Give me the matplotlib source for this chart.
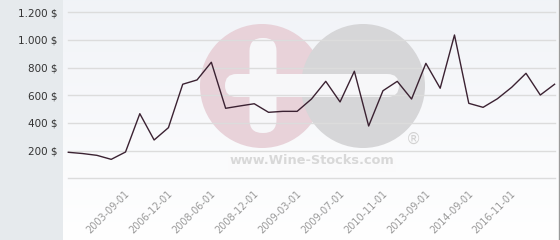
import numpy as np
import matplotlib
matplotlib.use("Agg")
import matplotlib.pyplot as plt
from matplotlib.patches import Circle, FancyBboxPatch, Rectangle
from matplotlib.ticker import FuncFormatter
import matplotlib.transforms as mtransforms

# ---- data ----
prices = [188, 179, 166, 137, 190, 467, 277, 366, 680, 711,
          839, 506, 523, 539, 477, 484, 484, 573, 701, 552,
          774, 378, 633, 701, 573, 831, 651, 1036, 542, 513,
          575, 658, 759, 602, 680]
tick_labels = ["2003-09-01", "2006-12-01", "2008-06-01", "2008-12-01",
               "2009-03-01", "2009-07-01", "2010-11-01", "2013-09-01",
               "2014-09-01", "2016-11-01"]
y_ticks = [200, 400, 600, 800, 1000, 1200]

W, H = 560, 240
fig = plt.figure(figsize=(W / 100, H / 100), dpi=100)
fig.patch.set_facecolor("white")

# background axes in pixel coordinates
bg = fig.add_axes([0, 0, 1, 1])
bg.set_xlim(0, W)
bg.set_ylim(H, 0)
bg.axis("off")
bg.add_patch(Rectangle((0, 0), 63, H, facecolor="#e6eaed", edgecolor="none"))
grad = np.linspace(0, 1, 256).reshape(-1, 1)
top = np.array([0.945, 0.953, 0.97])
bot = np.array([1.0, 1.0, 1.0])
img = top[None, None, :] * (1 - grad[:, :, None]) + bot[None, None, :] * grad[:, :, None]
bg.imshow(img, extent=(63, 558, H, 0), aspect="auto", zorder=0)
bg.plot([558.5, 558.5], [0, H], color="#9a9a9a", lw=1, zorder=1)

# watermark
bg.add_patch(Circle((262, 86), 62, facecolor="#e8d2d9", edgecolor="none", zorder=1))
bg.add_patch(Circle((363, 86), 62, facecolor="#d6d6d8", edgecolor="none", zorder=1.1))
bg.add_patch(FancyBboxPatch((214 + 11, 74 + 0), 196 - 22, 23, boxstyle="round,pad=0,rounding_size=11.5",
                            facecolor="#f7f7f9", edgecolor="none", zorder=1.2))
bg.add_patch(FancyBboxPatch((249.5, 38), 27, 95, boxstyle="round,pad=0,rounding_size=13",
                            facecolor="#f7f7f9", edgecolor="none", zorder=1.2))
bg.add_patch(Rectangle((228, 150), 168, 22, facecolor="#fafafb", edgecolor="none", zorder=1.15))
bg.text(312, 161, "www.Wine-Stocks.com", ha="center", va="center", fontsize=9.3,
        fontweight="bold", color="#d8d8d8", zorder=1.3)
bg.text(413, 139, "®", ha="center", va="center", fontsize=11, color="#d2d2d2", zorder=1.3)

# main axes
x0, x1, ytop, ybot = 63, 558, 0, 190
ax = fig.add_axes([x0 / W, (H - ybot) / H, (x1 - x0) / W, (ybot - ytop) / H])
ax.patch.set_alpha(0)
pxu = 14.3
ax.set_xlim(-(68.3 - x0) / pxu, len(prices) - 1 + (x1 - 554.6) / pxu)
ppd = 166.0 / 1200
ax.set_ylim(-(ybot - 178.3) / ppd, 1200 + 12.3 / ppd)
for s in ax.spines.values():
    s.set_visible(False)

xi = np.arange(len(prices))
for v in [0] + y_ticks:
    ax.plot([0, len(prices) - 1], [v, v], color="#dcdcdc", lw=1, zorder=1)
ax.plot(xi, prices, color="#3b2232", lw=1.0, zorder=3)

ax.set_yticks(y_ticks)
ax.yaxis.set_major_formatter(FuncFormatter(lambda v, p: f"{int(v):,} $".replace(",", ".")))
ax.tick_params(axis="y", length=0, pad=4, labelsize=7.5, labelcolor="#333333")

ticks_idx = list(range(4, len(prices), 3))[:len(tick_labels)]
ax.set_xticks(ticks_idx)
ax.set_xticklabels(tick_labels, rotation=45, ha="right", va="top", rotation_mode="anchor",
                   fontsize=7, color="#999999")
ax.tick_params(axis="x", length=0, pad=2)
off = mtransforms.ScaledTranslation(-1 / 100, 4 / 100, fig.dpi_scale_trans)
for lab in ax.get_xticklabels():
    lab.set_transform(lab.get_transform() + off)

fig.savefig("out.png", dpi=100)
